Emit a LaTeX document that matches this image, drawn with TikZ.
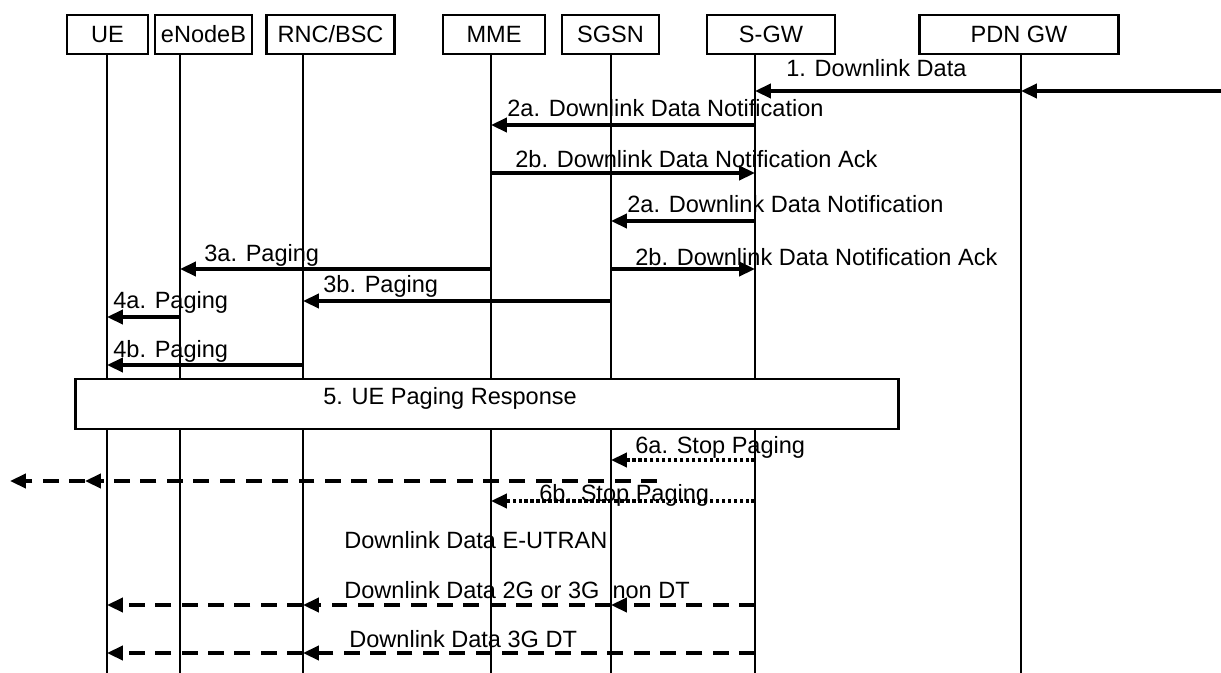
\documentclass[tikz,border=0pt]{standalone}
\usepackage{fontspec}
\setmainfont{Liberation Sans}
\usetikzlibrary{arrows.meta}
\tikzset{main node/.style={draw,line width=1.4pt,minimum height=22pt,inner sep=0pt},
  life line/.style={line width=0.6pt},
  msg/.style={line width=2pt,-{Triangle[length=9pt,width=8pt]}},
  dash msg/.style={msg,dash pattern=on 9pt off 6pt},
  dot msg/.style={msg,dash pattern=on 2pt off 1.4pt},
  msg text/.style={anchor=base west,inner sep=0pt},}

\begin{document}
\begin{tikzpicture}[x=0.02cm,y=-0.02cm,font=\fontsize{13.4}{16}\selectfont]
  \useasboundingbox (0,0) rectangle (1221,673);
  \node[main node,minimum width=45.9pt]  (ue)   at (107.5,34.5) {UE};
  \node[main node,minimum width=55pt]    (enb)  at (203.5,34.5) {eNodeB};
  \node[main node,minimum width=73.1pt]  (rnc)  at (330.5,34.5) {RNC/BSC};
  \node[main node,minimum width=57.8pt]  (mme)  at (494,34.5) {MME};
  \node[main node,minimum width=55pt]    (sgsn) at (610.5,34.5) {SGSN};
  \node[main node,minimum width=72.6pt]  (sgw)  at (771,34.5) {S-GW};
  \node[main node,minimum width=113.4pt] (pgw)  at (1019,34.5) {PDN GW};

  % lifelines
  \foreach \n/\x in {ue/107,enb/180,rnc/303,mme/491,sgsn/611,sgw/755,pgw/1021}{
    \coordinate (top \n) at (\x,54);
    \coordinate (end \n) at (\x,673);
    \draw[life line] (top \n) -- (end \n);
  }

  % message rows
  \foreach \r/\y in {1/91,2/125,3/173,4/221,5/269,6/301,7/317,8/365,9/460,10/501,11/605,12/653}
    \coordinate (r\r) at (0,\y);
  \coordinate (pdn in) at (1221,91);
  \coordinate (d1) at (657,481);
  \coordinate (d2) at (85,481);
  \coordinate (d3) at (10,481);

  \node[main node,fill=white,minimum width=468.3pt,minimum height=28.3pt] (resp) at (487,404) {};
  \node[msg text] (t5) at (323,404) {5. UE Paging Response};

  \node[msg text] (t1) at (786,76) {1. Downlink Data};
  \draw[msg] (pdn in) -- (top pgw |- r1);
  \draw[msg] (top pgw |- r1) -- (top sgw |- r1);

  \node[msg text] (t2a) at (507,116) {2a. Downlink Data Notification};
  \draw[msg] (top sgw |- r2) -- (top mme |- r2);
  \node[msg text] (t2b) at (515,167) {2b. Downlink Data Notification Ack};
  \draw[msg] (top mme |- r3) -- (top sgw |- r3);
  \node[msg text] (t2c) at (627,212) {2a. Downlink Data Notification};
  \draw[msg] (top sgw |- r4) -- (top sgsn |- r4);
  \node[msg text] (t2d) at (635,265) {2b. Downlink Data Notification Ack};
  \draw[msg] (top sgsn |- r5) -- (top sgw |- r5);

  \node[msg text] (t3a) at (204,261) {3a. Paging};
  \draw[msg] (top mme |- r5) -- (top enb |- r5);
  \node[msg text] (t3b) at (323,292) {3b. Paging};
  \draw[msg] (top sgsn |- r6) -- (top rnc |- r6);
  \node[msg text] (t4a) at (113,308) {4a. Paging};
  \draw[msg] (top enb |- r7) -- (top ue |- r7);
  \node[msg text] (t4b) at (113,357) {4b. Paging};
  \draw[msg] (top rnc |- r8) -- (top ue |- r8);

  \node[msg text] (t6a) at (635,453) {6a. Stop Paging};
  \draw[dot msg] (top sgw |- r9) -- (top sgsn |- r9);
  \draw[dash msg] (d1) -- (d2);
  \draw[dash msg] (d2) -- (d3);
  \node[msg text] (t6b) at (539,501) {6b. Stop Paging};
  \draw[dot msg] (top sgw |- r10) -- (top mme |- r10);

  \node[msg text] (t7) at (344,548) {Downlink Data E-UTRAN};
  \node[msg text] (t8) at (344,598) {Downlink Data 2G or 3G\ \ non DT};
  \draw[dash msg] (top sgw |- r11) -- (top sgsn |- r11);
  \draw[dash msg] (top sgsn |- r11) -- (top rnc |- r11);
  \draw[dash msg] (top rnc |- r11) -- (top ue |- r11);
  \node[msg text] (t9) at (349,647) {Downlink Data 3G DT};
  \draw[dash msg] (top sgw |- r12) -- (top rnc |- r12);
  \draw[dash msg] (top rnc |- r12) -- (top ue |- r12);
\end{tikzpicture}
\end{document}
